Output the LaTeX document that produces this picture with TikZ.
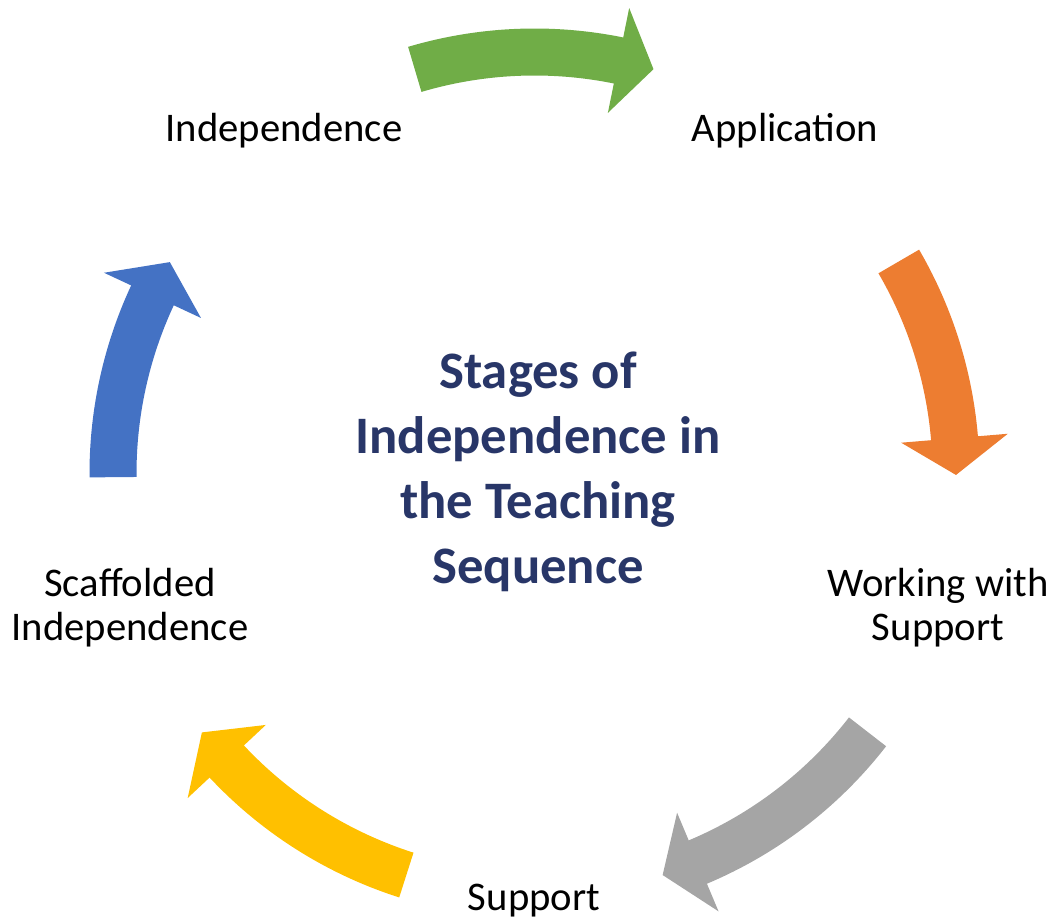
\documentclass[tikz,border=0pt]{standalone}
\usepackage{fontspec}
\setmainfont{Carlito}
\definecolor{cyclegreen}{HTML}{70AD47}
\definecolor{cycleorange}{HTML}{ED7D31}
\definecolor{cyclegray}{HTML}{A5A5A5}
\definecolor{cycleyellow}{HTML}{FFC000}
\definecolor{cycleblue}{HTML}{4472C4}
\definecolor{titleblue}{RGB}{40,54,104}
\begin{document}
\begin{tikzpicture}[x=0.75pt,y=0.75pt,
  stage/.style={align=center,anchor=base,inner sep=0pt,font=\fontsize{30.5}{33.3}\selectfont},
  heading/.style={align=center,anchor=base,inner sep=0pt,text=titleblue,font=\fontsize{39.5}{48.75}\selectfont\bfseries}]
\useasboundingbox (-534.5,-447.5) rectangle (521.5,473.5);
\foreach \col/\ta/\ba/\tp in {cyclegreen/106.5/78.5/73.6, cycleorange/30.2/4.8/-0.2, cyclegray/-37.8/-67.2/-72.3, cycleyellow/-107.7/-136.9/-142.1, cycleblue/180.5/155/149.9}
  \fill[\col] (\ta:445) arc[start angle=\ta, end angle=\ba, radius=445] -- (\ba:475) -- (\tp:421.5) -- (\ba:368) -- (\ba:398) arc[start angle=\ba, end angle=\ta, radius=398] -- cycle;
\node[stage] (indep) at (-250.5,331.8) {Independence};
\node[stage] (appl) at (250.5,331.8) {Application};
\node[stage] (working) at (403.5,-167) {Working with\\Support};
\node[stage] (support) at (-0.5,-436.5) {Support};
\node[stage] (scaff) at (-404.5,-167) {Scaffolded\\Independence};
\node[heading] (stages) at (3.5,-110) {Stages of\\Independence in\\the Teaching\\Sequence};
\end{tikzpicture}
\end{document}
